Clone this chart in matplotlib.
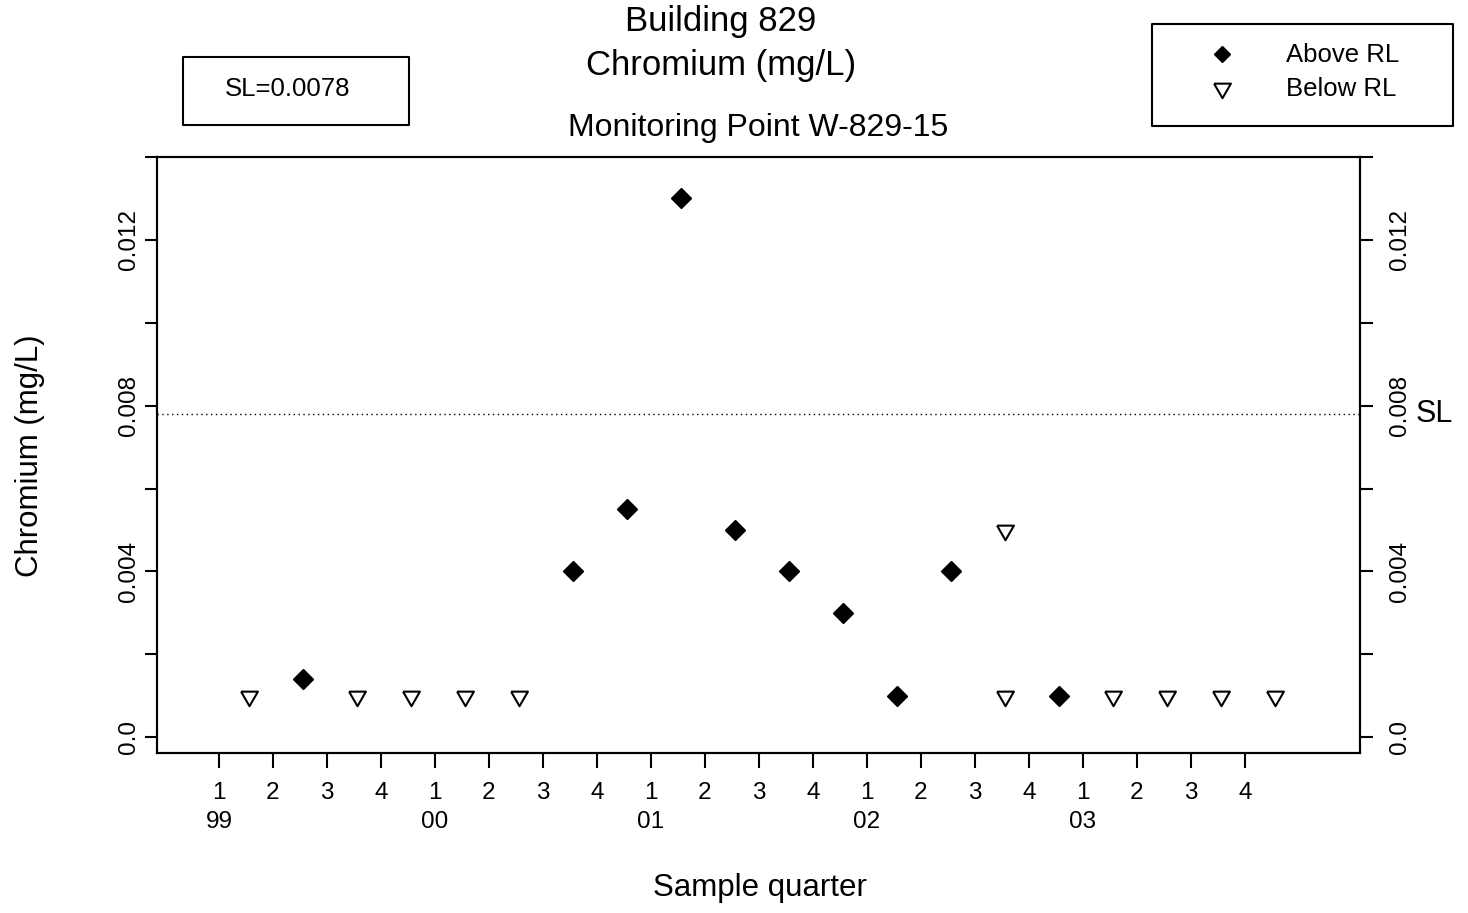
import numpy as np
import matplotlib
matplotlib.use("Agg")
import matplotlib.pyplot as plt
import matplotlib.transforms as mtransforms
from matplotlib.patches import Rectangle

plt.rcParams['font.family'] = ['Liberation Sans', 'DejaVu Sans']

# quarter labels along the bottom, one per quarter 1999-2003
quarters = ['1', '2', '3', '4'] * 5
years = ['99', '00', '01', '02', '03']

# samples: quarter index (0 = 1999 Q1) and result
above_q = [1, 6, 7, 8, 9, 10, 11, 12, 13, 15]
above_val = [0.0014, 0.004, 0.0055, 0.013, 0.005, 0.004, 0.003, 0.001, 0.004, 0.001]
below_q = [0, 2, 3, 4, 5, 14, 14, 16, 17, 18, 19]
below_val = [0.001, 0.001, 0.001, 0.001, 0.001, 0.005, 0.001, 0.001, 0.001, 0.001, 0.001]

sl = 0.0078
yticks = [0.0, 0.002, 0.004, 0.006, 0.008, 0.010, 0.012, 0.014]
ylabels = ['0.0', '', '0.004', '', '0.008', '', '0.012', '']

W, H = 1468, 913
def fx(x): return x / W
def fy(y): return 1 - y / H

# sample taken a little past mid-quarter
mid = 0.55

# open downward triangle, equilateral
tri = [(-1, 0.577), (1, 0.577), (0, -1.155), (-1, 0.577)]

fig = plt.figure(figsize=(W / 100, H / 100), dpi=100)
ax = fig.add_axes([fx(157), fy(753), (1360 - 157) / W, (753 - 157) / H])

ax.axhline(sl, color='black', lw=1.0, ls=(0, (1, 2.5)), zorder=1)
ax.plot(np.array(above_q) + mid, above_val, ls='none', marker='D', ms=10,
        color='black', zorder=3)
ax.plot(np.array(below_q) + mid, below_val, ls='none', marker=tri, ms=14,
        mfc='white', mec='black', mew=1.5, zorder=3)

ax.set_xlim(-1.148, 21.13)
ax.set_ylim(-0.00038, 0.014)

ax.set_xticks(range(len(quarters)))
ax.set_xticklabels(quarters, fontsize=17.5)
ax.tick_params(axis='x', length=11, width=1.5, pad=10)
year_tr = mtransforms.blended_transform_factory(ax.transData, fig.transFigure)
for i, yr in enumerate(years):
    ax.text(4 * i, fy(822), yr, transform=year_tr, ha='center', va='center',
            fontsize=17.5)

# left axis
ax.set_yticks(yticks)
ax.set_yticklabels(ylabels, fontsize=17.5, rotation=90, va='center')
ax.tick_params(axis='y', length=9, width=1.5, pad=3)

# right axis, same scale
ax2 = ax.twinx()
ax2.set_ylim(ax.get_ylim())
ax2.set_yticks(yticks)
ax2.set_yticklabels(ylabels, fontsize=17.5, rotation=90, va='center')
ax2.tick_params(axis='y', length=9, width=1.5, pad=12)

for a in (ax, ax2):
    for s in a.spines.values():
        s.set_linewidth(1.5)

sl_tr = mtransforms.blended_transform_factory(fig.transFigure, ax.transData)
ax.text(fx(1416), sl, 'SL', transform=sl_tr, ha='left', va='center', fontsize=22)

fig.text(fx(721), fy(22), 'Building 829', ha='center', va='center', fontsize=25)
fig.text(fx(721), fy(66), 'Chromium (mg/L)', ha='center', va='center', fontsize=25)
fig.text(fx(758), fy(128), 'Monitoring Point W-829-15', ha='center', va='center', fontsize=23)
fig.text(fx(760), fy(888), 'Sample quarter', ha='center', va='center', fontsize=22.5)
fig.text(fx(30), fy(456), 'Chromium (mg/L)', ha='center', va='center', rotation=90, fontsize=22.5)

# SL box
fig.patches.append(Rectangle((fx(183), fy(125)), (409 - 183) / W, (125 - 57) / H,
                             transform=fig.transFigure, fill=False, lw=1.5,
                             joinstyle='round', figure=fig))
fig.text(fx(288), fy(89), 'SL=0.0078', ha='center', va='center', fontsize=18.5)

# legend box
fig.patches.append(Rectangle((fx(1152), fy(126)), (1453 - 1152) / W, (126 - 24) / H,
                             transform=fig.transFigure, fill=False, lw=1.5,
                             joinstyle='round', figure=fig))
fig.lines.append(plt.Line2D([fx(1222)], [fy(54)], transform=fig.transFigure,
                            marker='D', ms=8.5, color='black', ls='none'))
fig.lines.append(plt.Line2D([fx(1222)], [fy(88)], transform=fig.transFigure,
                            marker=tri, ms=14, mfc='white', mec='black', mew=1.5, ls='none'))
fig.text(fx(1286), fy(55), 'Above RL', ha='left', va='center', fontsize=18.5)
fig.text(fx(1286), fy(89), 'Below RL', ha='left', va='center', fontsize=18.5)

fig.savefig('out.png', dpi=100)
